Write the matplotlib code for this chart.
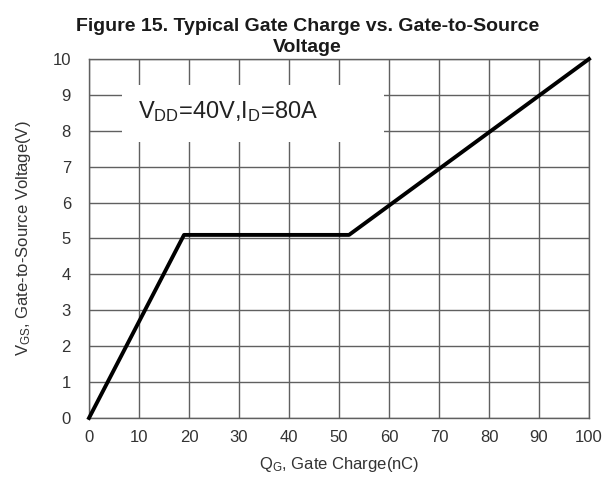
import matplotlib
matplotlib.use('Agg')
import matplotlib.pyplot as plt
from matplotlib.patches import Rectangle

# 字体
plt.rcParams['font.family'] = ['Liberation Sans', 'DejaVu Sans']
plt.rcParams['mathtext.fontset'] = 'custom'
plt.rcParams['mathtext.rm'] = 'Liberation Sans'
plt.rcParams['mathtext.it'] = 'Liberation Sans:italic'

# 数据
qg = [0, 19, 52, 100]          # nC
vgs = [0, 5.1, 5.1, 10]        # V
x_ticks = list(range(0, 101, 10))
y_ticks = list(range(0, 11))

fig = plt.figure(figsize=(6.08, 4.82), dpi=100)
ax = fig.add_axes([0.1464, 0.1328, 0.8224, 0.7448])

ax.set_xlim(0, 100)
ax.set_ylim(0, 10)
ax.set_xticks(x_ticks)
ax.set_yticks(y_ticks)
ax.grid(True, color='#606060', linewidth=1.0)
ax.set_axisbelow(True)
for s in ax.spines.values():
    s.set_color('#606060')
    s.set_linewidth(1.0)
ax.tick_params(length=0, labelsize=12, labelcolor='#333333')
ax.tick_params(axis='y', pad=13)
ax.tick_params(axis='x', pad=9)

# 白色标注框，遮住网格线
ax.add_patch(Rectangle((6.6, 7.7), 52.4, 1.58, facecolor='white',
                       edgecolor='none', zorder=1.5))
ax.text(9.8, 8.55, r'V$_\mathrm{DD}$=40V,I$_\mathrm{D}$=80A', fontsize=17,
        color='#222222', va='center', ha='left', zorder=3)

ax.plot(qg, vgs, color='black', linewidth=2.8, zorder=4, clip_on=False)

ax.set_xlabel(r'Q$_\mathrm{G}$, Gate Charge(nC)', fontsize=12, color='#333333', labelpad=7)
ax.set_ylabel(r'V$_\mathrm{GS}$, Gate-to-Source Voltage(V)', fontsize=12, color='#333333', labelpad=14)

fig.text(0.506, 0.962, 'Figure 15. Typical Gate Charge vs. Gate-to-Source\nVoltage',
         ha='center', va='top', fontsize=14, fontweight='bold', linespacing=1.25,
         color='#1a1a1a')

fig.savefig('out.png', dpi=100)
